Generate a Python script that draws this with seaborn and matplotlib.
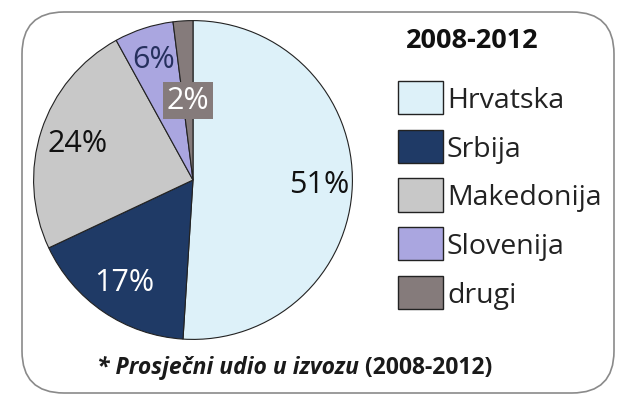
import numpy as np
import matplotlib
matplotlib.use('Agg')
import matplotlib.pyplot as plt
import seaborn as sns
from matplotlib.patches import FancyBboxPatch

# data
countries = ['Hrvatska', 'Srbija', 'Makedonija', 'Slovenija', 'drugi']
shares = [51, 17, 24, 6, 2]
colors = ['#ddf1f9', '#1f3a66', '#c8c8c8', '#aaa6e0', '#857b7b']
label_colors = ['#111111', 'white', '#111111', '#26305e', 'white']
label_dist = [0.79, 0.77, 0.76, 0.80, 0.50]
title = '2008-2012'
note_italic = '* Prosječni udio u izvozu'
note_plain = ' (2008-2012)'

sns.set_theme(style='white')
plt.rcParams['font.family'] = ['Open Sans', 'DejaVu Sans']

W, H = 623, 406
fig = plt.figure(figsize=(W / 100, H / 100), dpi=100)
fig.patch.set_facecolor('white')

# rounded frame around the whole chart (display pixels)
frame = FancyBboxPatch((22, H - 394), 592, 381,
                       boxstyle='round,pad=0,rounding_size=42',
                       transform=None, facecolor='white',
                       edgecolor='#8a8a8a', linewidth=1.2, zorder=-5)
fig.patches.append(frame)

# pie axes: centre (193, 181) px, radius 161 px
cx, cy, r = 193, 181, 161
ax = fig.add_axes([(cx - r) / W, (H - cy - r) / H, 2 * r / W, 2 * r / H])
wedges, _, autotexts = ax.pie(
    shares, colors=colors, startangle=90, counterclock=False,
    autopct='%d%%', radius=1,
    wedgeprops=dict(edgecolor='#222222', linewidth=0.8),
    textprops=dict(fontsize=22),
)
for w, t, d, c in zip(wedges, autotexts, label_dist, label_colors):
    mid = np.deg2rad((w.theta1 + w.theta2) / 2)
    t.set_position((d * np.cos(mid), d * np.sin(mid)))
    t.set_color(c)
autotexts[4].set_bbox(dict(facecolor=colors[4], edgecolor='none', pad=2.5))
ax.set_xlim(-1.01, 1.01)
ax.set_ylim(-1.01, 1.01)
ax.set_aspect('equal')
ax.axis('off')

# legend
fig.text(472 / W, 1 - 41 / H, title, fontsize=19.5, fontweight='bold',
         ha='center', va='center', color='#111111')
leg = fig.legend(wedges, countries, loc='upper left',
                 bbox_to_anchor=(398 / W, 1 - 82 / H), frameon=False,
                 fontsize=20.5, handlelength=1.58, handleheight=1.41,
                 labelspacing=0.55, handletextpad=0.14, borderpad=0,
                 borderaxespad=0)
for h in leg.legend_handles:
    h.set_edgecolor('#222222')
    h.set_linewidth(1.0)
for t in leg.get_texts():
    t.set_color('#222222')

# footnote
t1 = fig.text(97 / W, 1 - 368 / H, note_italic, fontsize=16.5, style='italic',
              fontweight='bold', ha='left', va='center', color='#1a1a1a')
fig.canvas.draw()
ext = t1.get_window_extent()
fig.text(ext.x1 / W, 1 - 368 / H, note_plain, fontsize=16.5, fontweight='bold',
         ha='left', va='center', color='#1a1a1a')

fig.savefig('out.png', dpi=100, facecolor='white')
